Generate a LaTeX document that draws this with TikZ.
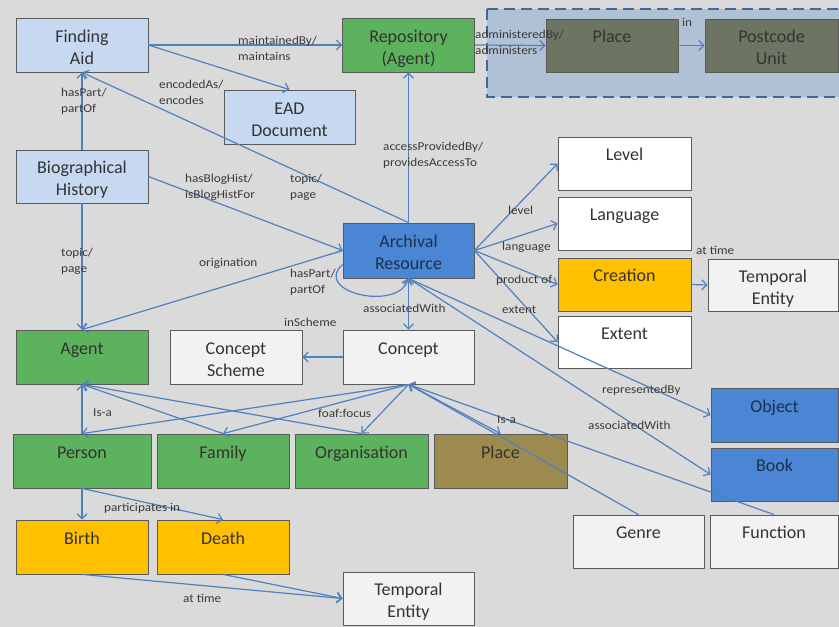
\documentclass[tikz,border=0pt]{standalone}
\usepackage{fontspec}
\setmainfont{Carlito}
\newfontfamily\lblfam[FakeStretch=1.1]{Carlito}
\usetikzlibrary{arrows.meta}
\definecolor{bg}{HTML}{DADADA}
\definecolor{lblue}{HTML}{C6D9F1}
\definecolor{grn}{HTML}{5DB35D}
\definecolor{dblue}{HTML}{4A86D3}
\definecolor{oliveg}{HTML}{6E7462}
\definecolor{oliveb}{HTML}{9D8A4E}
\definecolor{orng}{HTML}{FFC000}
\definecolor{offw}{HTML}{F2F2F2}
\definecolor{bord}{HTML}{5A5A5A}
\definecolor{txt}{HTML}{333333}
\definecolor{navy}{HTML}{1F2F4F}
\definecolor{lbltxt}{HTML}{3A3A3A}
\definecolor{edge}{HTML}{4F80C0}
\definecolor{contfill}{HTML}{B0C0D5}
\definecolor{contbord}{HTML}{3D6A9C}
\newcommand\bt[2]{\parbox[c][48pt][t]{126pt}{\centering\rule{0pt}{21pt}#1\\#2}}
\begin{document}
\begin{tikzpicture}[x=1pt,y=-1pt,
  box/.style={draw=bord, line width=0.8pt, inner sep=0pt, minimum height=54pt, minimum width=132pt, font=\fontsize{18}{22}\selectfont, text=txt},
  lbl/.style={font=\lblfam\fontsize{12}{15.5}\selectfont, text=lbltxt, inner sep=0pt, align=left, anchor=north west},
  arr/.style={draw=edge, line width=1.2pt, -{Straight Barb[length=5pt,width=10pt]}},
  darr/.style={draw=edge, line width=1.2pt, {Straight Barb[length=5pt,width=10pt]}-{Straight Barb[length=5pt,width=10pt]}},
]
\fill[bg] (0,0) rectangle (839,627);
\useasboundingbox (0,0) rectangle (839,627);
\begin{scope}
\clip (0,0) rectangle (839,627);
\draw[fill=contfill, draw=contbord, line width=2.5pt, dash pattern=on 11pt off 6pt] (487,9) rectangle (855,97);
\end{scope}

% nodes
\node[box,fill=lblue] (fa) at (82,45) {\bt{Finding}{Aid}};
\node[box,fill=grn] (repo) at (408.5,45) {\bt{Repository}{(Agent)}};
\node[box,fill=oliveg,minimum height=53pt] (plt) at (612,45.5) {\bt{Place}{}};
\node[box,fill=oliveg,minimum width=133pt,minimum height=53pt] (pcu) at (771.5,45.5) {\bt{Postcode}{Unit}};
\node[box,fill=lblue,minimum width=131pt] (ead) at (289.5,117) {\bt{EAD}{Document}};
\node[box,fill=lblue,minimum height=53pt] (bio) at (82,176.5) {\bt{Biographical}{History}};
\node[box,fill=dblue,text=navy,minimum width=131pt,minimum height=55pt] (ar) at (408.5,250.5) {\bt{Archival}{Resource}};
\node[box,fill=white,minimum width=133pt,minimum height=53pt] (lev) at (624.5,163.5) {\bt{Level}{}};
\node[box,fill=white,minimum width=133pt,minimum height=53pt] (lang) at (624.5,223.5) {\bt{Language}{}};
\node[box,fill=orng,minimum width=133pt,minimum height=53pt] (cre) at (624.5,284.5) {\bt{Creation}{}};
\node[box,fill=white,minimum width=133pt,minimum height=52pt] (ext) at (624.5,342) {\bt{Extent}{}};
\node[box,fill=offw,minimum width=130pt,minimum height=52pt] (ter) at (773,285) {\bt{Temporal}{Entity}};
\node[box,fill=dblue,text=navy,minimum width=127pt] (obj) at (774.5,415) {\bt{Object}{}};
\node[box,fill=dblue,text=navy,minimum width=127pt,minimum height=53pt] (book) at (774.5,474.5) {\bt{Book}{}};
\node[box,fill=offw,minimum width=131pt,minimum height=53pt] (gen) at (638.5,541.5) {\bt{Genre}{}};
\node[box,fill=offw,minimum width=128pt,minimum height=53pt] (fun) at (774,541.5) {\bt{Function}{}};
\node[box,fill=grn] (agent) at (82,357) {\bt{Agent}{}};
\node[box,fill=offw] (cs) at (236,357) {\bt{Concept}{Scheme}};
\node[box,fill=offw,minimum width=131pt] (con) at (408.5,357) {\bt{Concept}{}};
\node[box,fill=grn,minimum width=138pt] (per) at (82,461) {\bt{Person}{}};
\node[box,fill=grn] (fam) at (223,461) {\bt{Family}{}};
\node[box,fill=grn,minimum width=133pt] (org) at (361.5,461) {\bt{Organisation}{}};
\node[box,fill=oliveb,minimum width=133pt] (plb) at (500.5,461) {\bt{Place}{}};
\node[box,fill=orng] (bir) at (82,547) {\bt{Birth}{}};
\node[box,fill=orng] (dea) at (223,547) {\bt{Death}{}};
\node[box,fill=offw,minimum width=131pt,minimum height=53pt] (teb) at (408.5,598.5) {\bt{Temporal}{Entity}};

% edges
\draw[arr] (fa.east) -- (repo.west);
\draw[arr] (fa.east) -- (ead.north);
\draw[arr] (bio.north) -- (fa.south);
\draw[arr] (ar.north) -- (fa.south);
\draw[arr] (bio.east) -- (ar.west);
\draw[arr] (bio.south) -- (agent.north);
\draw[arr] (ar.west) -- (agent.north);
\draw[arr] (ar.north) -- (repo.south);
\draw[arr] (repo.east) -- (plt.west);
\draw[arr] (plt.east) -- (pcu.west);
\draw[arr] (ar.east) -- (lev.west);
\draw[arr] (ar.east) -- (lang.west);
\draw[arr] (ar.east) -- (cre.west);
\draw[arr] (ar.east) -- (ext.west);
\draw[arr] (ar.south) -- (obj.west);
\draw[arr] (ar.south) -- (book.west);
\draw[arr] (cre.east) -- (ter.west);
\draw[arr] ([yshift=-14pt]ar.west) .. controls (312,292) and (398,312) .. (ar.south);
\draw[darr] (ar.south) -- (con.north);
\draw[arr] (con.west) -- (cs.east);
\draw[arr] (per.north) -- (agent.south);
\draw[arr] (fam.north) -- (agent.south);
\draw[arr] (org.north) -- (agent.south);
\draw[arr] (con.south) -- (per.north);
\draw[arr] (con.south) -- (fam.north);
\draw[arr] (con.south) -- (org.north);
\draw[arr] (con.south) -- (plb.north);
\draw[arr] (gen.north) -- (con.south);
\draw[arr] (fun.north) -- (con.south);
\draw[arr] (per.south) -- (bir.north);
\draw[arr] (per.south) -- (dea.north);
\draw[arr] (bir.south) -- (teb.west);
\draw[arr] (dea.south) -- (teb.west);

% labels
\node[lbl] (l1) at (238,36) {maintainedBy/\\maintains};
\node[lbl] (l2) at (159,80) {encodedAs/\\encodes};
\node[lbl] (l3) at (61,88) {hasPart/\\partOf};
\node[lbl] (l4) at (185,174) {hasBlogHist/\\isBlogHistFor};
\node[lbl] (l5) at (290,174) {topic/\\page};
\node[lbl] (l6) at (383,142) {accessProvidedBy/\\providesAccessTo};
\node[lbl] (l7) at (475,30) {administeredBy/\\administers};
\node[lbl] (l8) at (682,18) {in};
\node[lbl] (l9) at (508,206) {level};
\node[lbl] (l10) at (502,242) {language};
\node[lbl] (l11) at (496,275) {product of};
\node[lbl] (l12) at (502,306) {extent};
\node[lbl] (l13) at (696,246) {at time};
\node[lbl] (l14) at (602,385) {representedBy};
\node[lbl] (l15) at (588,421) {associatedWith};
\node[lbl] (l16) at (363,304) {associatedWith};
\node[lbl] (l17) at (284,318) {inScheme};
\node[lbl] (l18) at (290,269) {hasPart/\\partOf};
\node[lbl] (l19) at (199,258) {origination};
\node[lbl] (l20) at (61,248) {topic/\\page};
\node[lbl] (l21) at (93,409) {Is-a};
\node[lbl] (l22) at (318,409) {foaf:focus};
\node[lbl] (l23) at (497,416) {Is-a};
\node[lbl] (l24) at (104,503) {participates in};
\node[lbl] (l25) at (183,594) {at time};
\end{tikzpicture}
\end{document}
